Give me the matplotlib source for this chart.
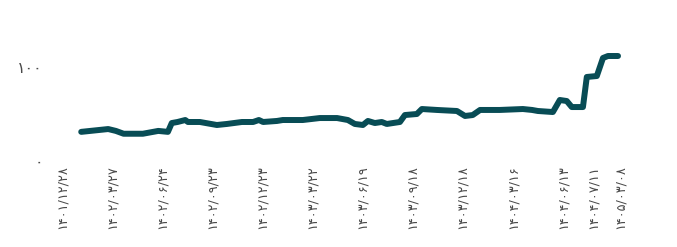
import matplotlib
matplotlib.use('Agg')
import matplotlib.pyplot as plt

# week index of each reading and the value at that point
weeks = [5, 12, 14, 16, 21, 25, 27.5, 28.5, 30, 32, 32.7, 35.8, 40.2, 42.8, 46.7, 49.6,
         51.1, 52.2, 55.8, 57.3, 62.5, 66.9, 71.4, 74.2, 76, 78.1, 79.4, 81.2, 83, 84.3,
         87.7, 89, 92.1, 93.4, 97.3, 102.5, 104.6, 106.6, 108.5, 113.6, 119.6, 122,
         123.5, 127.4, 129.2, 131, 132.3, 135.2, 136.2, 138.8, 140.4, 141.7, 144.3]
values = [31, 34, 32, 29, 29, 32, 31, 40.4, 41.5, 43.6, 41.5, 41.5, 38.3, 39.4, 41.5, 41.5,
          43.6, 41.5, 42.6, 43.6, 43.6, 45.7, 45.7, 43.6, 39.4, 38.3, 42.6, 40.4, 41.5, 39.4,
          41.5, 48.9, 50, 55.3, 54.3, 53.2, 47.9, 48.9, 54.3, 54.3, 55.3, 54.3,
          53.2, 52.1, 64.9, 63.8, 57.4, 57.4, 89.4, 90.4, 109.6, 111.7, 111.7]

tick_weeks = [0, 13, 26, 39, 52, 65, 78, 91, 104, 117, 130, 138, 145]
tick_labels = ['۱۴۰۱/۱۲/۲۸', '۱۴۰۲/۰۳/۲۷', '۱۴۰۲/۰۶/۲۴', '۱۴۰۲/۰۹/۲۳', '۱۴۰۲/۱۲/۲۳',
               '۱۴۰۳/۰۳/۲۲', '۱۴۰۳/۰۶/۱۹', '۱۴۰۳/۰۹/۱۸', '۱۴۰۳/۱۲/۱۸', '۱۴۰۴/۰۳/۱۶',
               '۱۴۰۴/۰۶/۱۳', '۱۴۰۴/۰۷/۱۱', '۱۴۰۵/۰۳/۰۸']
y_ticks = [0, 100]
y_labels = ['۰', '۱۰۰']

plt.rcParams['font.family'] = ['DejaVu Sans']

fig = plt.figure(figsize=(6.77, 2.47), dpi=100)
ax = fig.add_axes([50 / 677, 86 / 247, 600 / 677, 112.8 / 247])

ax.plot(weeks, values, color='#084c55', linewidth=4.3, solid_capstyle='round',
        solid_joinstyle='round')

ax.set_xlim(-3.1, 152.6)
ax.set_ylim(0, 120)
ax.set_xticks(tick_weeks)
ax.set_xticklabels(tick_labels, rotation=90, fontsize=9.3, color='#4a4a4a')
ax.set_yticks(y_ticks)
ax.set_yticklabels(y_labels, fontsize=11.5, color='#4a4a4a')
ax.tick_params(axis='x', length=0, pad=3)
ax.tick_params(axis='y', length=0, pad=5)

for s in ax.spines.values():
    s.set_visible(False)
ax.grid(False)

fig.savefig('out.png', dpi=100)
